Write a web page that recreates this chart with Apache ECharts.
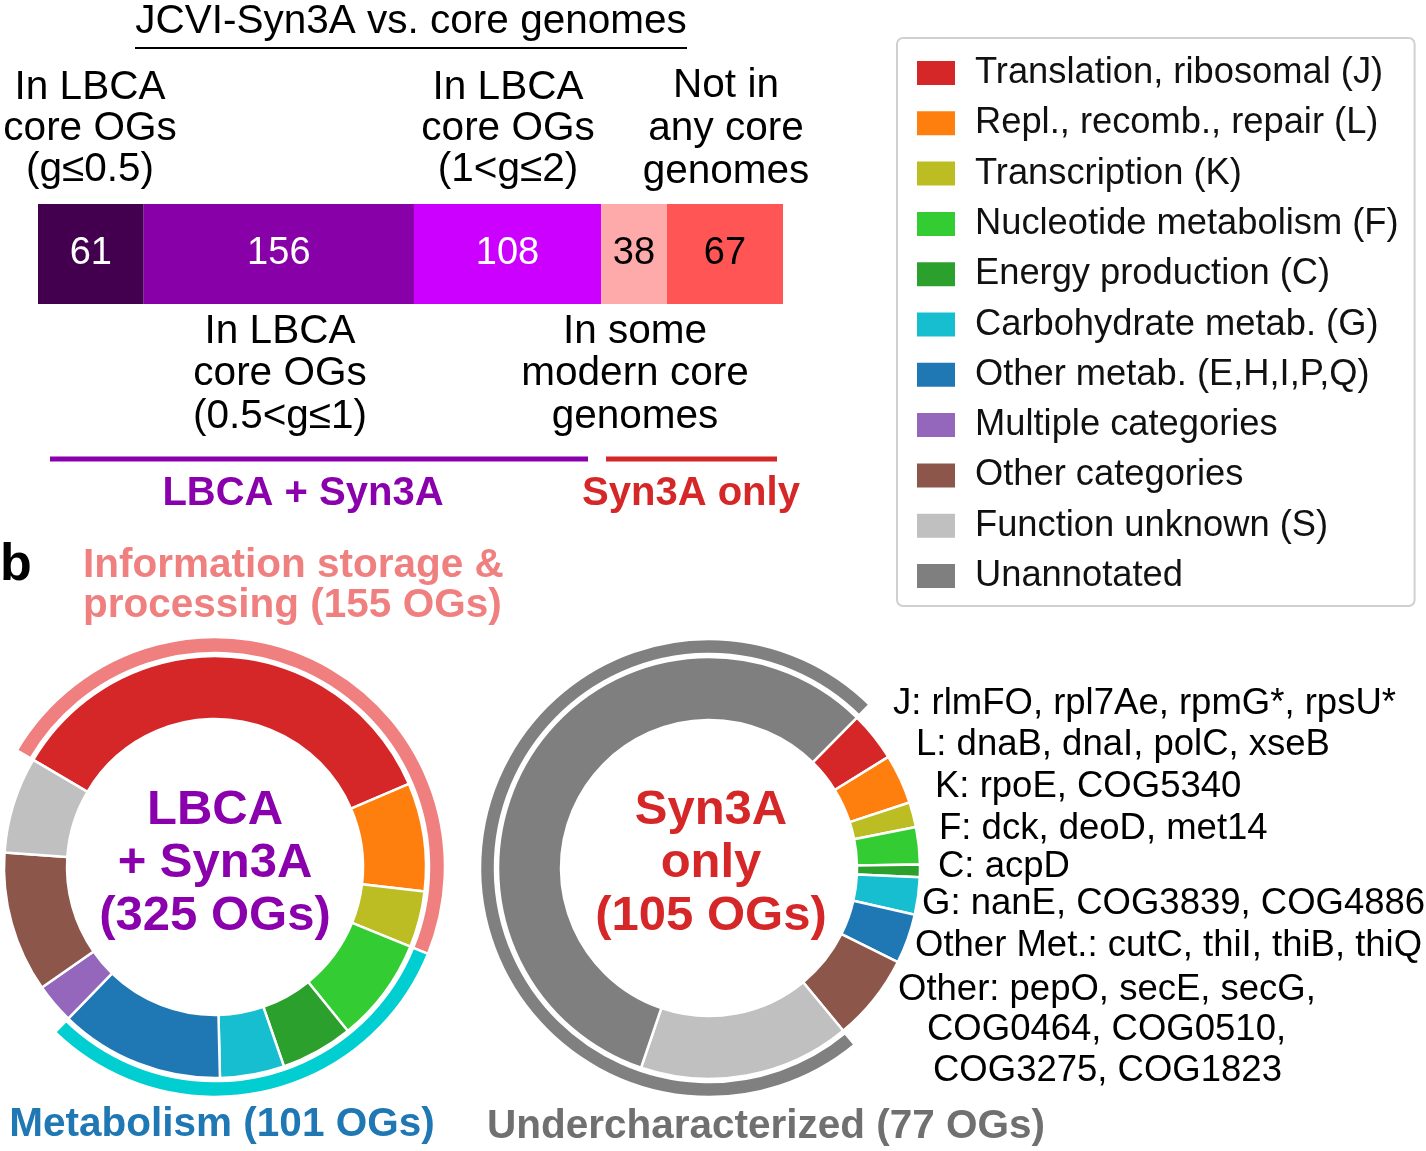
<!DOCTYPE html>
<html>
<head>
<meta charset="utf-8">
<script src="https://cdn.jsdelivr.net/npm/echarts@6/dist/echarts.min.js"></script>
<style>
html,body{margin:0;padding:0;background:#fff;}
#chart{width:1426px;height:1151px;}
</style>
</head>
<body>
<div id="chart"></div>
<script>
// ---------- DATA ----------
const categories = [
  'Translation, ribosomal (J)',
  'Repl., recomb., repair (L)',
  'Transcription (K)',
  'Nucleotide metabolism (F)',
  'Energy production (C)',
  'Carbohydrate metab. (G)',
  'Other metab. (E,H,I,P,Q)',
  'Multiple categories',
  'Other categories',
  'Function unknown (S)',
  'Unannotated'
];
const lbcaSyn3aValues = [114, 27, 14, 26, 18, 16, 41, 10, 35, 24, 0];
const syn3aOnlyValues = [4, 4, 2, 3, 1, 3, 4, 0, 7, 17, 60];

const lbcaGroupNames = ['Information storage & processing', 'Metabolism', 'Other'];
const lbcaGroupValues = [155, 101, 69];
const syn3aGroupNames = ['Characterized', 'Undercharacterized'];
const syn3aGroupValues = [28, 77];

const barCategories = [
  'In LBCA core OGs (g≤0.5)',
  'In LBCA core OGs (0.5<g≤1)',
  'In LBCA core OGs (1<g≤2)',
  'In some modern core genomes',
  'Not in any core genomes'
];
const barValues = [61, 156, 108, 38, 67];

const geneLabels = [
  'J: rlmFO, rpl7Ae, rpmG*, rpsU*',
  'L: dnaB, dnaI, polC, xseB',
  'K: rpoE, COG5340',
  'F: dck, deoD, met14',
  'C: acpD',
  'G: nanE, COG3839, COG4886',
  'Other Met.: cutC, thiI, thiB, thiQ',
  'Other: pepO, secE, secG,',
  'COG0464, COG0510,',
  'COG3275, COG1823'
];

// ---------- STYLES ----------
const catColors = ['#d62728','#ff7f0e','#bcbd22','#33cc33','#2ca02c','#17becf','#1f77b4','#9467bd','#8c564b','#c0c0c0','#7f7f7f'];
const barColors = ['#43004f','#8800a8','#cc00ff','#ffaaaa','#ff5555'];
const barLabelColors = ['#fff','#fff','#fff','#000','#000'];
const lbcaGroupColors = ['#f08080','#00ced1','transparent'];
const syn3aGroupColors = ['transparent','#808080'];
const FF = '"Liberation Sans", Arial, Helvetica, sans-serif';
const PURPLE = '#8a00ac';
const RED = '#d62728';

function pieData(values) {
  const out = [];
  values.forEach((v, i) => {
    if (v > 0) out.push({ name: categories[i], value: v, itemStyle: { color: catColors[i] } });
  });
  return out;
}
function groupData(names, values, colors) {
  return names.map((n, i) => ({ name: n, value: values[i], itemStyle: { color: colors[i], borderColor: colors[i] === 'transparent' ? 'transparent' : '#fff' } }));
}

function txt(text, x, y, opt) {
  opt = opt || {};
  return {
    type: 'text', x: x, y: y, silent: true,
    style: {
      text: text,
      fontSize: opt.size || 40,
      fontWeight: opt.weight || 'normal',
      fontFamily: FF,
      fill: opt.color || '#000',
      align: opt.align || 'center', textAlign: opt.align || 'center',
      verticalAlign: 'middle', textVerticalAlign: 'middle',
      lineHeight: opt.lh || undefined
    }
  };
}
function line(x1, y1, x2, y2, color, w) {
  return { type: 'line', silent: true, shape: { x1, y1, x2, y2 }, style: { stroke: color, lineWidth: w } };
}

const labelPos = [
  [893, 704], [916, 745], [935, 787], [939, 829], [938, 867],
  [922, 904], [915, 946], [898, 990], [927, 1030], [933, 1071]
];

const graphics = [
  txt('JCVI-Syn3A vs. core genomes', 411, 22, { size: 40.5 }),
  line(135, 48, 687, 48, '#000', 2),
  txt('In LBCA\ncore OGs\n(g≤0.5)', 90, 129, { size: 40.5, lh: 41 }),
  txt('In LBCA\ncore OGs\n(1<g≤2)', 508, 129, { size: 40.5, lh: 41 }),
  txt('Not in\nany core\ngenomes', 726, 129, { size: 40.5, lh: 43 }),
  txt('In LBCA\ncore OGs\n(0.5<g≤1)', 280, 374, { size: 40.5, lh: 42.5 }),
  txt('In some\nmodern core\ngenomes', 635, 374, { size: 40.5, lh: 42.5 }),
  line(50, 459, 588, 459, PURPLE, 5),
  line(606, 459, 777, 459, RED, 5),
  txt('LBCA + Syn3A', 303, 494, { size: 40, weight: 'bold', color: PURPLE }),
  txt('Syn3A only', 691, 494, { size: 40, weight: 'bold', color: RED }),
  txt('b', 0, 566, { size: 52, weight: 'bold', align: 'left' }),
  txt('Information storage &\nprocessing (155 OGs)', 83, 586, { size: 40.5, weight: 'bold', color: '#f08080', align: 'left', lh: 40 }),
  txt('LBCA\n+ Syn3A\n(325 OGs)', 215, 863, { size: 49, weight: 'bold', color: PURPLE, lh: 53 }),
  txt('Syn3A\nonly\n(105 OGs)', 711, 863, { size: 49, weight: 'bold', color: RED, lh: 53 }),
  txt('Metabolism (101 OGs)', 222, 1125, { size: 40.5, weight: 'bold', color: '#1f77b4' }),
  txt('Undercharacterized (77 OGs)', 766, 1127, { size: 40.5, weight: 'bold', color: '#707070' })
];
geneLabels.forEach((g, i) => {
  graphics.push(txt(g, labelPos[i][0], labelPos[i][1], { size: 36.5, align: 'left' }));
});

const barSeries = barValues.map((v, i) => ({
  type: 'bar', name: barCategories[i], stack: 'bar', barWidth: '100%', silent: true,
  data: [v],
  itemStyle: { color: barColors[i] },
  label: { show: true, position: 'inside', formatter: '{c}', fontSize: 38, fontFamily: FF, color: barLabelColors[i] }
}));

const pieCommon = {
  type: 'pie', clockwise: true, silent: true, avoidLabelOverlap: false,
  label: { show: false }, labelLine: { show: false },
  emphasis: { disabled: true }, animation: false
};

const option = {
  animation: false,
  backgroundColor: '#fff',
  textStyle: { fontFamily: FF },
  grid: { left: 38, top: 204, width: 745, height: 100 },
  xAxis: { type: 'value', min: 0, max: 430, show: false },
  yAxis: { type: 'category', data: ['Syn3A'], show: false },
  legend: {
    orient: 'vertical', left: 897, top: 38,
    padding: [16.5, 16, 11.5, 18],
    itemWidth: 40, itemHeight: 26, itemGap: 13.3,
    icon: 'rect',
    borderColor: '#d0d0d0', borderWidth: 2, borderRadius: 6,
    selectedMode: false,
    textStyle: { fontSize: 36.3, fontFamily: FF, color: '#111', lineHeight: 37, padding: [0, 0, 0, 14] },
    data: categories
  },
  series: [
    ...barSeries,
    Object.assign({}, pieCommon, {
      name: 'LBCA + Syn3A', center: [215, 867], radius: [148, 211], startAngle: 149.5,
      itemStyle: { borderColor: '#fff', borderWidth: 2.5 },
      data: pieData(lbcaSyn3aValues)
    }),
    Object.assign({}, pieCommon, {
      name: 'LBCA groups', center: [215, 867], radius: [214, 230], startAngle: 149.5,
      itemStyle: { borderWidth: 2.5 },
      data: groupData(lbcaGroupNames, lbcaGroupValues, lbcaGroupColors)
    }),
    Object.assign({}, pieCommon, {
      name: 'Syn3A only', center: [709, 868], radius: [148, 211], startAngle: 45.5,
      itemStyle: { borderColor: '#fff', borderWidth: 2.5 },
      data: pieData(syn3aOnlyValues)
    }),
    Object.assign({}, pieCommon, {
      name: 'Syn3A groups', center: [709, 868], radius: [214, 229], startAngle: 45.5,
      itemStyle: { borderWidth: 2.5 },
      data: groupData(syn3aGroupNames, syn3aGroupValues, syn3aGroupColors)
    })
  ],
  graphic: graphics
};

const chart = echarts.init(document.getElementById('chart'), null, { renderer: 'canvas' });
chart.setOption(option);
</script>
</body>
</html>
